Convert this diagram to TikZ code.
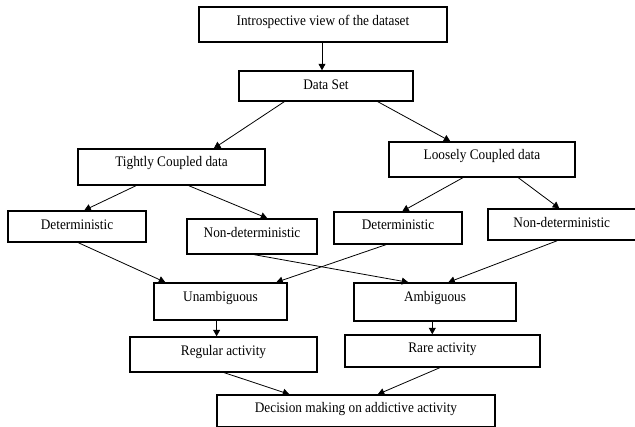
\documentclass[tikz,border=0pt]{standalone}
\usepackage{fontspec}
\setmainfont{Liberation Serif}[FakeStretch=0.91]
\usetikzlibrary{arrows.meta}
\tikzset{
  box/.style={draw=black, line width=1.4pt, rectangle, inner sep=0pt, align=center,
    text height=10pt, text depth=3.5pt,
    font=\fontsize{14.6}{16}\selectfont},
  conn/.style={draw=black, line width=0.8pt, -{Triangle[width=7pt,length=6.5pt]}}
}
\begin{document}
\begin{tikzpicture}[x=1pt,y=-1pt]
\useasboundingbox[fill=white] (0,0) rectangle (635,427);
\node[box, text depth=7pt, minimum width=248pt, minimum height=35pt] (intro) at (323,24.5) {Introspective view of the dataset};
\node[box, minimum width=174pt, minimum height=30pt] (ds) at (326,86) {Data Set};
\node[box, text depth=10.9pt, minimum width=187pt, minimum height=36pt] (tight) at (171.5,167) {Tightly Coupled data};
\node[box, text depth=10.5pt, minimum width=186pt, minimum height=35pt] (loose) at (482,159.5) {Loosely Coupled data};
\node[box, text depth=4.5pt, minimum width=138pt, minimum height=31pt] (detL) at (77,226.5) {Deterministic};
\node[box, text depth=8.5pt, minimum width=130pt, minimum height=35pt] (ndL) at (252,236.5) {Non-deterministic};
\node[box, text depth=6pt, minimum width=128pt, minimum height=32pt] (detR) at (398,228) {Deterministic};
\node[box, text depth=4.5pt, minimum width=147.5pt, minimum height=31pt] (ndR) at (561.75,224.5) {Non-deterministic};
\node[box, text depth=10.5pt, minimum width=133pt, minimum height=37pt] (unamb) at (220.5,301.5) {Unambiguous};
\node[box, text depth=11.5pt, minimum width=162pt, minimum height=38pt] (amb) at (435,302) {Ambiguous};
\node[box, text depth=7.5pt, minimum width=187pt, minimum height=35pt] (reg) at (223.5,354.5) {Regular activity};
\node[box, text depth=7.5pt, minimum width=195pt, minimum height=32pt] (rare) at (442.5,351) {Rare activity};
\node[box, text depth=5.5pt, minimum width=278pt, minimum height=31.3pt] (dec) at (356,410.65) {Decision making on addictive activity};

\draw[conn] ([xshift=-1pt]intro.south) -- ([xshift=-4pt]ds.north);
\draw[conn] ([xshift=46pt]ds.south west) -- ([xshift=136.6pt]tight.north west);
\draw[conn] ([xshift=139.5pt]ds.south west) -- ([xshift=62pt]loose.north west);
\draw[conn] ([xshift=58.7pt]tight.south west) -- ([xshift=77pt]detL.north west);
\draw[conn] ([xshift=111.5pt]tight.south west) -- ([xshift=81pt]ndL.north west);
\draw[conn] ([xshift=74.6pt]loose.south west) -- ([xshift=69pt]detR.north west);
\draw[conn] ([xshift=130pt]loose.south west) -- ([xshift=72pt]ndR.north west);
\draw[conn] ([xshift=71pt]detL.south west) -- ([xshift=12pt]unamb.north west);
\draw[conn] ([xshift=52.6pt]detR.south west) -- ([xshift=123pt]unamb.north west);
\draw[conn] ([xshift=68pt]ndL.south west) -- ([xshift=55pt]amb.north west);
\draw[conn] ([xshift=70pt]ndR.south west) -- ([xshift=95pt]amb.north west);
\draw[conn] ([xshift=63.3pt]unamb.south west) -- ([xshift=87.3pt]reg.north west);
\draw[conn] ([xshift=79pt]amb.south west) -- ([xshift=88pt]rare.north west);
\draw[conn] ([xshift=95pt]reg.south west) -- ([xshift=73pt]dec.north west);
\draw[conn] ([xshift=95.5pt]rare.south west) -- ([xshift=161.5pt]dec.north west);
\end{tikzpicture}
\end{document}
